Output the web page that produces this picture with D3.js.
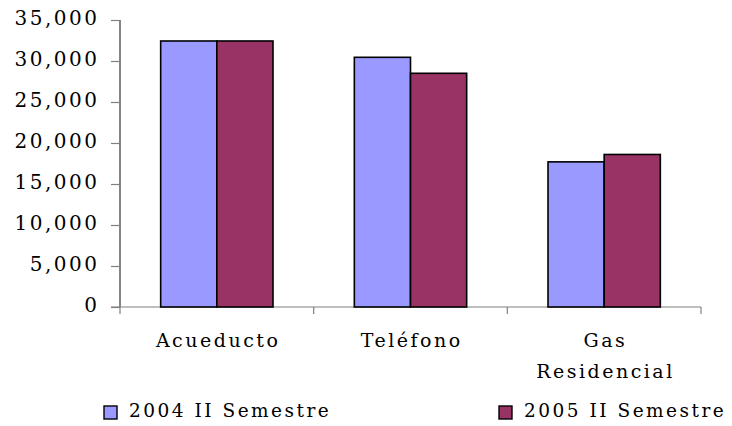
<!DOCTYPE html>
<html><head><meta charset="utf-8">
<script src="https://cdn.jsdelivr.net/npm/d3@7"></script>
<style>body{margin:0;background:#fff}svg{display:block}</style>
</head><body>
<svg id="c" width="732" height="426"></svg>
<script>
const categories = [["Acueducto"], ["Teléfono"], ["Gas", "Residencial"]];
const seriesNames = ["2004 II Semestre", "2005 II Semestre"];
const values2004 = [32440, 30450, 17700];
const values2005 = [32440, 28500, 18600];
const yTicks = [0, 5000, 10000, 15000, 20000, 25000, 30000, 35000];
const colors = ["#9999FF", "#993366"];

const svg = d3.select("#c");
const font = "'DejaVu Serif', 'Liberation Serif', serif";
const mLeft = 120, mRight = 701, mTop = 20, mBottom = 307;

const keys = categories.map(c => c.join(" "));
const x = d3.scaleBand().domain(keys).range([mLeft, mRight]).paddingInner(0.42).paddingOuter(0.21);
const xs = d3.scaleBand().domain([0, 1]).range([0, x.bandwidth()]);
const y = d3.scaleLinear().domain([0, 35000]).range([mBottom, mTop]);

// y axis
const yAxis = d3.axisLeft(y).tickValues(yTicks).tickSize(9).tickFormat(d3.format(","));
const gy = svg.append("g").attr("transform", `translate(${mLeft},0)`).call(yAxis);
gy.select(".domain").attr("d", `M0,${mTop}V${mBottom}`).attr("stroke", "#333").attr("stroke-width", 1.2);
gy.selectAll(".tick line").attr("stroke", "#808080").attr("stroke-width", 1.2);
gy.selectAll(".tick text").attr("x", -20.5).attr("dy", "0.22em")
  .style("font-family", font).style("font-size", "20px").style("letter-spacing", "2.5px").attr("fill", "#000");

// x axis line and category ticks
svg.append("line").attr("x1", mLeft - 9).attr("x2", mRight).attr("y1", mBottom).attr("y2", mBottom)
  .attr("stroke", "#808080").attr("stroke-width", 1.2);
d3.range(keys.length + 1).forEach(i => {
  const tx = mLeft + i * x.step();
  svg.append("line").attr("x1", tx).attr("x2", tx).attr("y1", mBottom).attr("y2", mBottom + 7)
    .attr("stroke", "#808080").attr("stroke-width", 1.2);
});

// bars
const data = keys.map((k, i) => ({k, v: [values2004[i], values2005[i]]}));
const g = svg.append("g");
data.forEach(d => {
  d.v.forEach((v, j) => {
    g.append("rect")
      .attr("x", x(d.k) + xs(j)).attr("width", xs.bandwidth())
      .attr("y", y(v)).attr("height", y(0) - y(v))
      .attr("fill", colors[j]).attr("stroke", "#000").attr("stroke-width", 1.6);
  });
});

// x labels
categories.forEach((lines, i) => {
  const cx = x(keys[i]) + x.bandwidth() / 2;
  lines.forEach((t, li) => {
    svg.append("text").attr("x", cx + 1.3).attr("y", mBottom + 40 + li * 30.5)
      .attr("text-anchor", "middle").style("font-family", font).style("font-size", "19px")
      .style("letter-spacing", "2.5px").text(t);
  });
});

// legend
const legX = [104, 499];
seriesNames.forEach((n, j) => {
  svg.append("rect").attr("x", legX[j]).attr("y", 406).attr("width", 13).attr("height", 13)
    .attr("fill", colors[j]).attr("stroke", "#000").attr("stroke-width", 1.4);
  svg.append("text").attr("x", legX[j] + 25).attr("y", 417.3)
    .style("font-family", font).style("font-size", "18.5px").style("letter-spacing", "2.5px").text(n);
});
</script>
</body></html>
